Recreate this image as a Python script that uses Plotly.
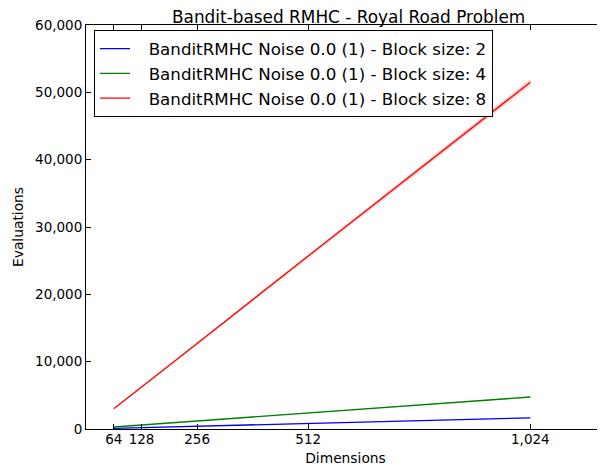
import plotly.graph_objects as go

dimensions = [64, 128, 256, 512, 1024]
x_tick_vals = [64, 128, 256, 512, 1024]
y_tick_vals = [0, 10000, 20000, 30000, 40000, 50000, 60000]

series_names = [
    "BanditRMHC Noise 0.0 (1) - Block size: 2",
    "BanditRMHC Noise 0.0 (1) - Block size: 4",
    "BanditRMHC Noise 0.0 (1) - Block size: 8",
]
block2_mean = [100, 205, 420, 830, 1660]
block2_err = [5, 10, 15, 25, 50]
block4_mean = [300, 600, 1200, 2400, 4750]
block4_err = [10, 20, 30, 50, 80]
block8_mean = [3000, 6200, 12700, 25700, 51500]
block8_err = [60, 120, 200, 300, 450]

line_colors = ["#0000ff", "#008000", "#ff0000"]
band_colors = ["rgba(0,0,255,0.2)", "rgba(0,128,0,0.2)", "rgba(255,0,0,0.2)"]

FONT = "DejaVu Sans"
LEGEND_PAD = "\u2002\u00a0"

fig = go.Figure()
for name, mean, err, lc, bc in zip(series_names,
                                   [block2_mean, block4_mean, block8_mean],
                                   [block2_err, block4_err, block8_err],
                                   line_colors, band_colors):
    upper = [m + e for m, e in zip(mean, err)]
    lower = [m - e for m, e in zip(mean, err)]
    fig.add_trace(go.Scatter(x=dimensions, y=upper, mode="lines", line=dict(width=0),
                             showlegend=False, hoverinfo="skip"))
    fig.add_trace(go.Scatter(x=dimensions, y=lower, mode="lines", line=dict(width=0),
                             fill="tonexty", fillcolor=bc, showlegend=False, hoverinfo="skip"))
    fig.add_trace(go.Scatter(x=dimensions, y=mean, mode="lines", name=LEGEND_PAD + name,
                             line=dict(color=lc, width=1.3)))

# invisible trace to host mirrored tick axes
fig.add_trace(go.Scatter(x=[None], y=[None], xaxis="x2", yaxis="y2", showlegend=False))

x_range = [0, 1196]
y_range = [0, 60000]

# page body has an 8px margin, so the figure is laid out shifted by (-8, -8)
fig.update_layout(
    width=605, height=470,
    margin=dict(l=78, r=8, t=17, b=49, autoexpand=False),
    paper_bgcolor="white", plot_bgcolor="white",
    font=dict(family=FONT, size=13.5, color="black"),
    title=dict(text="Bandit-based RMHC - Royal Road Problem", x=0.563, xanchor="center",
               y=1 - 9.5 / 470, yanchor="middle", font=dict(size=16.9, family=FONT),
               automargin=False),
    xaxis=dict(range=x_range, tickvals=x_tick_vals, tickformat=",d", ticks="inside",
               ticklen=5, tickcolor="black", showline=True, linecolor="black", linewidth=1,
               mirror=True, showgrid=False, zeroline=False, automargin=False,
               ticklabelstandoff=-2,
               title=dict(text="Dimensions", font=dict(size=13.8), standoff=7)),
    yaxis=dict(range=y_range, tickvals=y_tick_vals, tickformat=",d", ticks="inside",
               ticklen=5, tickcolor="black", showline=True, linecolor="black", linewidth=1,
               mirror=False, showgrid=False, zeroline=False, automargin=False,
               title=dict(text="Evaluations", font=dict(size=13.8), standoff=8)),
    xaxis2=dict(range=x_range, tickvals=x_tick_vals, ticks="inside", ticklen=5,
                tickcolor="black", overlaying="x", side="top", showticklabels=False,
                showline=False, showgrid=False, zeroline=False, automargin=False),
    yaxis2=dict(range=y_range, tickvals=y_tick_vals, ticks="inside", ticklen=5,
                tickcolor="black", overlaying="y", side="right", showticklabels=False,
                showline=False, showgrid=False, zeroline=False, automargin=False),
    legend=dict(x=0.0154, y=0.987, xanchor="left", yanchor="top", traceorder="normal",
                bgcolor="white", bordercolor="black", borderwidth=1,
                font=dict(size=16.7, family=FONT), itemwidth=30, tracegroupgap=0),
    showlegend=True,
)

fig.write_html("out.html")
